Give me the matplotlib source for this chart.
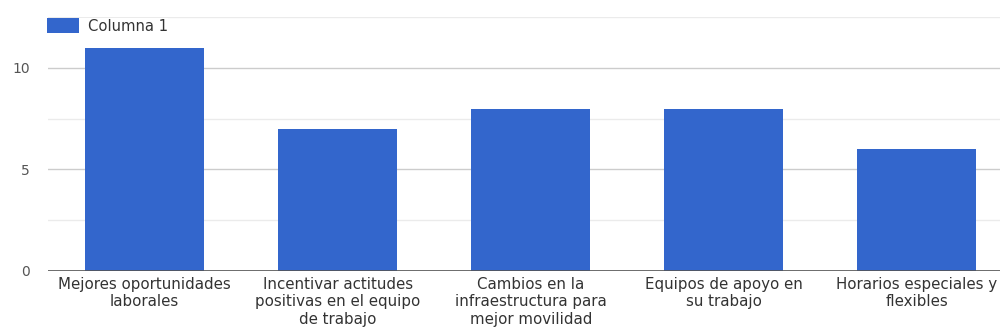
import matplotlib
matplotlib.use("Agg")
from matplotlib import pyplot as plt
from matplotlib.ticker import MultipleLocator

categorias = [
    "Mejores oportunidades\nlaborales",
    "Incentivar actitudes\npositivas en el equipo\nde trabajo",
    "Cambios en la\ninfraestructura para\nmejor movilidad",
    "Equipos de apoyo en\nsu trabajo",
    "Horarios especiales y\nflexibles",
]
valores = [11, 7, 8, 8, 6]
serie = "Columna 1"

plt.rcParams['font.family'] = ['DejaVu Sans']

fig = plt.figure(figsize=(10, 3.36), dpi=100)
ax = fig.add_axes([0.048, 0.1935, 0.952, 0.7555])

x = list(range(len(valores)))
ax.bar(x, valores, width=0.616, color="#3366cc", label=serie, zorder=3)

ax.set_xlim(-0.5, 4.43)
ax.set_ylim(0, 12.5)
ax.yaxis.set_minor_locator(MultipleLocator(2.5))
ax.set_yticks([0, 5, 10])
ax.grid(axis="y", which="major", color="#cccccc", linewidth=1, zorder=0)
ax.grid(axis="y", which="minor", color="#ebebeb", linewidth=1, zorder=0)
ax.axhline(0, color="#555555", linewidth=1.2, zorder=4)

ax.set_xticks(x)
ax.set_xticklabels(categorias, fontsize=10.8, color="#333333", linespacing=1.22)
ax.tick_params(axis="x", length=0, pad=4)
ax.tick_params(axis="y", which="both", length=0, pad=13, labelsize=10, labelcolor="#555555")
for s in ax.spines.values():
    s.set_visible(False)

leg = ax.legend(loc="upper left", bbox_to_anchor=(-0.001, 0.995), frameon=True,
                facecolor="white", edgecolor="none", framealpha=1, fancybox=False,
                fontsize=10.6, handlelength=2.2, handleheight=1.2, handletextpad=0.55,
                borderaxespad=0, borderpad=0)
for t in leg.get_texts():
    t.set_color("#333333")

fig.savefig("out.png", dpi=100, facecolor="white")
